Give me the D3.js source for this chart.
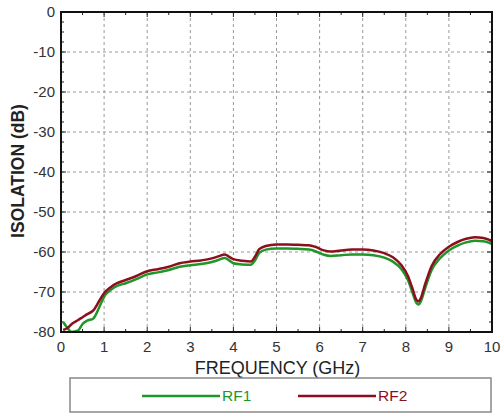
<!DOCTYPE html>
<html>
<head>
<meta charset="utf-8">
<script src="https://cdn.jsdelivr.net/npm/d3@7"></script>
<style>
  body { margin: 0; background: #fff; }
  text { font-family: "Liberation Sans", Arial, sans-serif; }
</style>
</head>
<body>
<svg id="chart"></svg>
<script>
// Data
const freq = [0.05, 0.15, 0.25, 0.4, 0.5, 0.6, 0.75, 0.9, 1.0, 1.15, 1.3, 1.5, 1.75, 2.0, 2.25, 2.5, 2.75, 3.0, 3.25, 3.5, 3.65, 3.8, 3.9, 4.0, 4.2, 4.4, 4.5, 4.6, 4.75, 5.0, 5.25, 5.5, 5.75, 5.9, 6.1, 6.25, 6.5, 6.75, 7.0, 7.25, 7.5, 7.7, 7.9, 8.05, 8.15, 8.25, 8.3, 8.35, 8.45, 8.6, 8.8, 9.0, 9.2, 9.4, 9.6, 9.8, 10.0];
const rf1 = [-77.5, -79, -80, -79.6, -78, -77.2, -76.6, -73.5, -71.2, -69.5, -68.5, -67.8, -66.8, -65.6, -65.1, -64.5, -63.7, -63.3, -63, -62.5, -62, -61.5, -62.1, -62.8, -63.1, -63.2, -62.1, -60.2, -59.4, -59.1, -59.1, -59.2, -59.4, -59.8, -60.7, -61, -60.8, -60.6, -60.6, -60.8, -61.4, -62.4, -64.3, -67, -70, -72.8, -73.1, -72.3, -69, -64.5, -61.5, -59.6, -58.4, -57.6, -57.2, -57.3, -58];
const rf2 = [-79.5, -79, -78, -77, -76.3, -75.6, -74.6, -72, -70.3, -68.8, -67.8, -67, -66, -64.8, -64.3, -63.7, -62.8, -62.4, -62.1, -61.6, -61.1, -60.6, -61.2, -61.8, -62.2, -62.4, -61.2, -59.3, -58.5, -58.1, -58.1, -58.2, -58.3, -58.7, -59.6, -59.9, -59.6, -59.4, -59.4, -59.6, -60.3, -61.3, -63.3, -66, -69, -72, -72.3, -71.5, -68, -63.5, -60.5, -58.7, -57.5, -56.7, -56.3, -56.5, -57.2];
const xTicks = [0, 1, 2, 3, 4, 5, 6, 7, 8, 9, 10];
const yTicks = [0, -10, -20, -30, -40, -50, -60, -70, -80];
const seriesNames = ["RF1", "RF2"];
const seriesColors = ["#1e9628", "#8c0f1e"];

const width = 501;
const height = 414;
const margin = { top: 12, right: 9, bottom: 82, left: 61 };
const innerW = width - margin.left - margin.right;
const innerH = height - margin.top - margin.bottom;

const svg = d3.select("#chart")
  .attr("width", width)
  .attr("height", height);

const x = d3.scaleLinear().domain([0, 10]).range([0, innerW]);
const y = d3.scaleLinear().domain([-80, 0]).range([innerH, 0]);

const g = svg.append("g").attr("transform", `translate(${margin.left},${margin.top})`);

// Grid
g.append("g")
  .selectAll("line")
  .data(xTicks.slice(1, -1))
  .join("line")
  .attr("x1", d => x(d)).attr("x2", d => x(d))
  .attr("y1", 0).attr("y2", innerH)
  .attr("stroke", "#999").attr("stroke-dasharray", "3,3");

g.append("g")
  .selectAll("line")
  .data(yTicks.slice(1, -1))
  .join("line")
  .attr("y1", d => y(d)).attr("y2", d => y(d))
  .attr("x1", 0).attr("x2", innerW)
  .attr("stroke", "#999").attr("stroke-dasharray", "3,3");

// Inward ticks on all four sides
const minorX = d3.range(0, 10.01, 0.5);
const minorY = d3.range(-80, 0.01, 2.5);
const tickG = g.append("g").attr("stroke", "#222").attr("stroke-width", 1);
minorX.forEach(v => {
  const len = Number.isInteger(v) ? 5 : 3;
  tickG.append("line").attr("x1", x(v)).attr("x2", x(v)).attr("y1", innerH).attr("y2", innerH - len);
  tickG.append("line").attr("x1", x(v)).attr("x2", x(v)).attr("y1", 0).attr("y2", len);
});
minorY.forEach(v => {
  const len = v % 10 === 0 ? 5 : 3;
  tickG.append("line").attr("y1", y(v)).attr("y2", y(v)).attr("x1", 0).attr("x2", len);
  tickG.append("line").attr("y1", y(v)).attr("y2", y(v)).attr("x1", innerW).attr("x2", innerW - len);
});

// Lines
g.append("clipPath").attr("id", "clip")
  .append("rect").attr("width", innerW).attr("height", innerH);

const line = d3.line()
  .x(d => x(d[0]))
  .y(d => y(d[1]))
  .curve(d3.curveMonotoneX);

[rf1, rf2].forEach((vals, i) => {
  g.append("path")
    .datum(freq.map((f, j) => [f, vals[j]]))
    .attr("clip-path", "url(#clip)")
    .attr("fill", "none")
    .attr("stroke", seriesColors[i])
    .attr("stroke-width", 2.5)
    .attr("stroke-linejoin", "round")
    .attr("d", line);
});

// Frame
g.append("rect")
  .attr("width", innerW).attr("height", innerH)
  .attr("fill", "none").attr("stroke", "#111").attr("stroke-width", 2);

// Tick labels
g.append("g")
  .selectAll("text")
  .data(xTicks)
  .join("text")
  .attr("x", d => x(d))
  .attr("y", innerH + 20)
  .attr("text-anchor", "middle")
  .attr("font-size", 15)
  .attr("fill", "#333")
  .text(d => d);

g.append("g")
  .selectAll("text")
  .data(yTicks)
  .join("text")
  .attr("x", -6)
  .attr("y", d => y(d) + 5)
  .attr("text-anchor", "end")
  .attr("font-size", 15)
  .attr("fill", "#333")
  .text(d => d);

// Axis titles
svg.append("text")
  .attr("x", margin.left + innerW / 2 + 1)
  .attr("y", 374)
  .attr("text-anchor", "middle")
  .attr("font-size", 18)
  .attr("fill", "#222")
  .text("FREQUENCY (GHz)");

svg.append("text")
  .attr("transform", `translate(24,${margin.top + innerH / 2 - 1}) rotate(-90)`)
  .attr("text-anchor", "middle")
  .attr("font-size", 17.5)
  .attr("font-weight", "bold")
  .attr("fill", "#222")
  .text("ISOLATION (dB)");

// Legend
const legend = svg.append("g");
legend.append("rect")
  .attr("x", 70).attr("y", 378)
  .attr("width", 421).attr("height", 34)
  .attr("fill", "#fff").attr("stroke", "#888").attr("stroke-width", 1.5);

const legendX = [142, 298];
seriesNames.forEach((name, i) => {
  legend.append("line")
    .attr("x1", legendX[i]).attr("x2", legendX[i] + 78)
    .attr("y1", 396).attr("y2", 396)
    .attr("stroke", seriesColors[i]).attr("stroke-width", 2.5);
  legend.append("text")
    .attr("x", legendX[i] + 80)
    .attr("y", 401)
    .attr("font-size", 15.5)
    .attr("fill", seriesColors[i])
    .text(name);
});
</script>
</body>
</html>
